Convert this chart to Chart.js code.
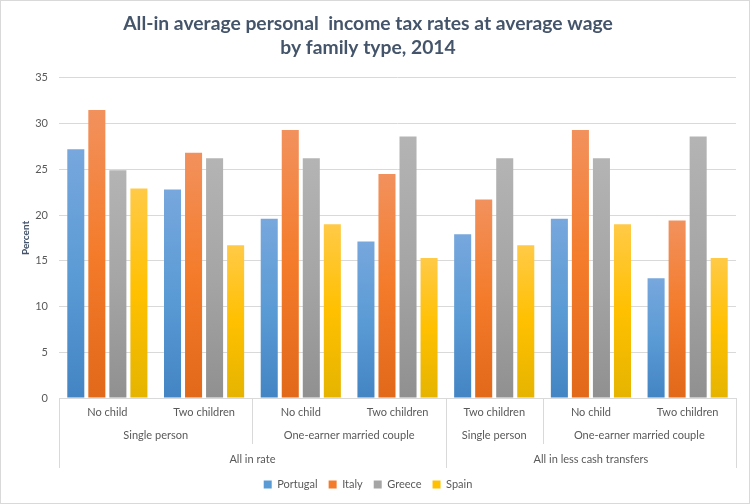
<!DOCTYPE html>
<html>
<head>
<meta charset="utf-8">
<script src="https://cdn.jsdelivr.net/npm/chart.js@4.4.1/dist/chart.umd.min.js"></script>
<style>
html,body{margin:0;padding:0;background:#fff;}
#wrap{width:750px;height:504px;position:relative;}
</style>
</head>
<body>
<div id="wrap"><canvas id="c" width="750" height="504"></canvas></div>
<script>
// ---- data ----
const categories = ["No child","Two children","No child","Two children","Two children","No child","Two children"];
const familyLabels = ["Single person","One-earner married couple","Single person","One-earner married couple"];
const familySpans = [2,2,1,2];
const rateLabels = ["All in rate","All in less cash transfers"];
const rateSpans = [4,3];
const seriesNames = ["Portugal","Italy","Greece","Spain"];
const portugal = [27.2, 22.8, 19.6, 17.1, 17.9, 19.6, 13.1];
const italy    = [31.5, 26.8, 29.3, 24.5, 21.7, 29.3, 19.4];
const greece   = [24.9, 26.2, 26.2, 28.6, 26.2, 26.2, 28.6];
const spain    = [22.9, 16.7, 19.0, 15.3, 16.7, 19.0, 15.3];
const titleLines = ["All-in average personal  income tax rates at average wage","by family type, 2014"];
const yTitle = "Percent";

// ---- styles ----
const FONT = "Lato";
const palettes = [
  ["#77a7dd","#5b9bd5","#4384c4"],
  ["#f2915d","#f47b2a","#e2681a"],
  ["#b4b4b4","#a5a5a5","#909090"],
  ["#ffca47","#ffc000","#e5b400"]
];
const gridColor = "#d9d9d9";
const textColor = "#595959";
const titleColor = "#44546a";

function barGradient(stops){
  return (ctx) => {
    const chart = ctx.chart;
    if (!chart.chartArea || ctx.type !== 'data') return stops[1];
    const y = chart.scales.y;
    const top = y.getPixelForValue(ctx.raw);
    const bot = y.getPixelForValue(0);
    if (!isFinite(top) || !isFinite(bot) || top === bot) return stops[1];
    const g = chart.ctx.createLinearGradient(0, top, 0, bot);
    g.addColorStop(0, stops[0]);
    g.addColorStop(0.5, stops[1]);
    g.addColorStop(1, stops[2]);
    return g;
  };
}

const seriesValues = [portugal, italy, greece, spain];
const datasets = seriesNames.map((n,i)=>({
  label: n,
  data: seriesValues[i],
  backgroundColor: barGradient(palettes[i]),
  borderWidth: 0,
  barPercentage: 0.81,
  categoryPercentage: 0.87
}));

const frame = {
  id: 'frame',
  beforeDraw(chart){
    const c = chart.ctx;
    c.save();
    c.fillStyle = '#fff';
    c.fillRect(0,0,chart.width,chart.height);
    c.strokeStyle = gridColor;
    c.lineWidth = 1;
    c.strokeRect(0.5,0.5,chart.width-1,chart.height-1);
    c.restore();
  }
};

const groupAxis = {
  id: 'groupAxis',
  afterDraw(chart){
    const x = chart.scales.x;
    const c = chart.ctx;
    const n = categories.length;
    const edge = (i) => i <= 0 ? x.left : (i >= n ? x.right :
      (x.getPixelForValue(i-1) + x.getPixelForValue(i)) / 2);
    const top = x.top;
    c.save();
    c.strokeStyle = gridColor;
    c.lineWidth = 1;
    c.fillStyle = textColor;
    c.font = "11px " + FONT;
    c.textAlign = 'center';
    c.textBaseline = 'middle';
    // family level
    let idx = 0;
    familySpans.forEach((s, k) => {
      const l = edge(idx), r = edge(idx + s);
      c.fillText(familyLabels[k], (l + r) / 2, top + 37);
      idx += s;
    });
    // rate level
    idx = 0;
    const rateEdges = [0];
    rateSpans.forEach((s, k) => {
      const l = edge(idx), r = edge(idx + s);
      c.fillText(rateLabels[k], (l + r) / 2, top + 61);
      idx += s;
      rateEdges.push(idx);
    });
    // family separators (short)
    idx = 0;
    familySpans.forEach((s) => {
      idx += s;
      if (!rateEdges.includes(idx)) {
        const px = Math.round(edge(idx)) + 0.5;
        c.beginPath(); c.moveTo(px, top); c.lineTo(px, top + 46); c.stroke();
      }
    });
    rateEdges.forEach((e) => {
      const px = Math.round(edge(e)) + 0.5;
      c.beginPath(); c.moveTo(px, top); c.lineTo(px, top + 70); c.stroke();
    });
    c.restore();
  }
};

const baseLegend = Chart.defaults.plugins.legend.labels.generateLabels;

new Chart(document.getElementById('c'), {
  type: 'bar',
  data: { labels: categories, datasets },
  plugins: [frame, groupAxis],
  options: {
    responsive: false,
    animation: false,
    devicePixelRatio: 1,
    layout: { padding: { left: 0, right: 14, top: 0, bottom: 4 } },
    plugins: {
      title: {
        display: true,
        text: titleLines,
        color: titleColor,
        font: { family: FONT, size: 19.3, weight: 'bold', lineHeight: 1.24 },
        padding: { top: 12, bottom: 18 }
      },
      legend: {
        position: 'bottom',
        labels: {
          color: textColor,
          font: { family: FONT, size: 11 },
          boxWidth: 8,
          boxHeight: 8,
          padding: 11,
          generateLabels: (chart) => baseLegend(chart).map((it, i) => {
            it.fillStyle = palettes[i][1];
            it.strokeStyle = palettes[i][1];
            it.lineWidth = 0;
            return it;
          })
        }
      },
      tooltip: { enabled: false }
    },
    scales: {
      x: {
        grid: { display: false, drawTicks: false },
        border: { display: true, color: gridColor },
        ticks: { color: textColor, font: { family: FONT, size: 11 }, padding: 8, maxRotation: 0, autoSkip: false },
        afterFit: (s) => { s.height = 70; }
      },
      y: {
        min: 0, max: 35,
        ticks: { stepSize: 5, color: textColor, font: { family: FONT, size: 11 }, padding: 11 },
        grid: { color: gridColor, drawTicks: false },
        border: { display: false },
        title: { display: true, text: yTitle, color: titleColor, font: { family: FONT, size: 10, weight: 'bold' }, padding: { top: 20, bottom: 0 } },
        afterFit: (s) => { s.width = 59; }
      }
    }
  }
});
</script>
</body>
</html>
